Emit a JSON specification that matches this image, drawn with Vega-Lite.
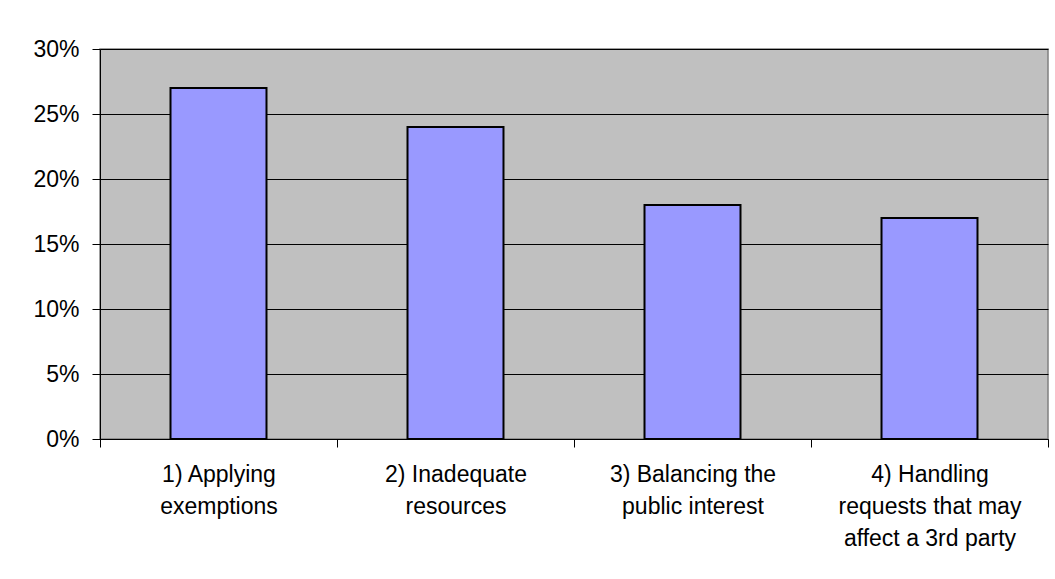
{
  "$schema": "https://vega.github.io/schema/vega-lite/v6.json",
  "width": 948,
  "height": 390,
  "autosize": {"type": "none"},
  "padding": {"left": 100, "top": 49, "right": 7, "bottom": 140},
  "background": "white",
  "data": {
    "values": [
      {"category": "1) Applying exemptions", "share": 0.27},
      {"category": "2) Inadequate resources", "share": 0.24},
      {"category": "3) Balancing the public interest", "share": 0.18},
      {"category": "4) Handling requests that may affect a 3rd party", "share": 0.17}
    ]
  },
  "mark": {"type": "bar", "fill": "#9999FF", "stroke": "black", "strokeWidth": 2, "width": {"band": 0.405}},
  "encoding": {
    "x": {
      "field": "category",
      "type": "nominal",
      "sort": null,
      "scale": {"paddingInner": 0, "paddingOuter": 0},
      "axis": {
        "title": null,
        "labelAngle": 0,
        "tickBand": "extent",
        "tickSize": 8,
        "tickColor": "black",
        "domainColor": "black",
        "labelPadding": 16,
        "labelFont": "Liberation Sans",
        "labelFontSize": 23,
        "labelColor": "black",
        "labelLineHeight": 32,
        "labelBaseline": "top",
        "labelLimit": 0,
        "labelExpr": "datum.value == '1) Applying exemptions' ? ['1) Applying', 'exemptions'] : datum.value == '2) Inadequate resources' ? ['2) Inadequate', 'resources'] : datum.value == '3) Balancing the public interest' ? ['3) Balancing the', 'public interest'] : datum.value == '4) Handling requests that may affect a 3rd party' ? ['4) Handling', 'requests that may', 'affect a 3rd party'] : ''"
      }
    },
    "y": {
      "field": "share",
      "type": "quantitative",
      "scale": {"domain": [0, 0.3], "nice": false},
      "axis": {
        "title": null,
        "values": [0, 0.05, 0.1, 0.15, 0.2, 0.25, 0.3],
        "format": ".0%",
        "grid": true,
        "gridColor": "black",
        "gridOpacity": 1,
        "gridWidth": 1,
        "tickSize": 8,
        "tickColor": "black",
        "domainColor": "black",
        "labelPadding": 13,
        "labelFont": "Liberation Sans",
        "labelFontSize": 23,
        "labelColor": "black"
      }
    }
  },
  "config": {
    "view": {"fill": "#C0C0C0", "stroke": "#808080", "strokeWidth": 1.5}
  }
}
